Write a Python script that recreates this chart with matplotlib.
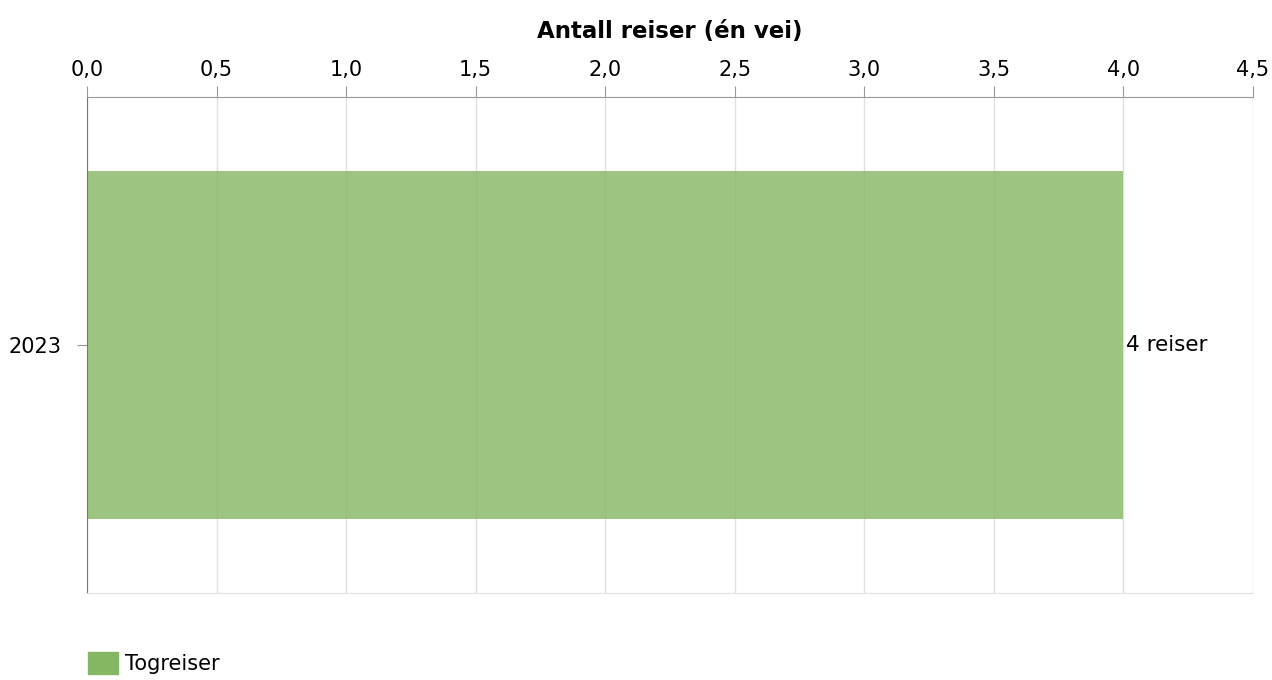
import matplotlib.pyplot as plt
from matplotlib.patches import Patch
from matplotlib.ticker import FuncFormatter

years = ["2023"]
togreiser = [4]
value_labels = ["4 reiser"]
series_name = "Togreiser"
x_title = "Antall reiser (én vei)"

plt.rcParams['font.family'] = ['DejaVu Sans']

fig = plt.figure(figsize=(12.72, 6.8), dpi=100)
ax = fig.add_axes([87 / 1272, 1 - 593 / 680, (1253 - 87) / 1272, (593 - 97) / 680])

bars = ax.barh(years, togreiser, height=0.7, color="#85b762", alpha=0.8, zorder=2)
ax.set_ylim(-0.5, 0.5)
ax.set_xlim(0, 4.5)
ax.set_xticks([i * 0.5 for i in range(10)])
ax.xaxis.set_major_formatter(FuncFormatter(lambda v, p: f"{v:.1f}".replace(".", ",")))
ax.xaxis.tick_top()
ax.xaxis.set_label_position("top")
ax.set_xlabel(x_title, fontsize=16.5, fontweight="bold", labelpad=16)
ax.tick_params(axis="x", length=8, color="#999999", labelsize=15, pad=4)
ax.tick_params(axis="y", length=7, color="#999999", labelsize=15, pad=11)
ax.grid(axis="x", color="#e0e0e0", linewidth=1, zorder=0)

ax.spines["right"].set_visible(False)
ax.spines["top"].set_color("#999999")
ax.spines["left"].set_color("#777777")
ax.spines["bottom"].set_color("#e0e0e0")

for b, lab in zip(bars, value_labels):
    ax.text(b.get_width() + 0.01, b.get_y() + b.get_height() / 2, lab,
            va="center", ha="left", fontsize=15.5)

fig.legend(handles=[Patch(color="#85b762", label=series_name)],
           loc="lower left", bbox_to_anchor=(80 / 1272, -0.004), frameon=False,
           fontsize=15, handlelength=1.4, handleheight=1.3, handletextpad=0.35,
           borderaxespad=0)

fig.savefig("out.png", dpi=100)
